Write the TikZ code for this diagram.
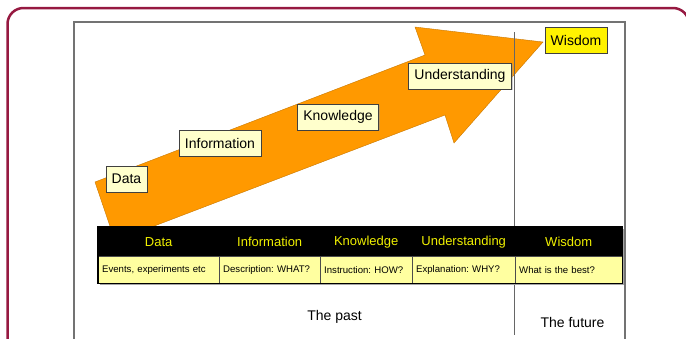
\documentclass[tikz,border=0pt]{standalone}
\usepackage{fontspec}
\setmainfont{Liberation Sans}
\usetikzlibrary{shadows}
\frenchspacing

\definecolor{framered}{RGB}{150,25,65}
\definecolor{arroworange}{RGB}{255,153,0}
\definecolor{arrowedge}{RGB}{200,120,0}
\definecolor{labelfill}{RGB}{255,255,204}
\definecolor{rowfill}{RGB}{255,255,160}
\definecolor{headtext}{RGB}{240,240,0}

\begin{document}
\begin{tikzpicture}[
		x=1pt, y=-1pt,
		stage/.style={rectangle, draw=black!75, fill=labelfill, inner xsep=6pt, inner ysep=0pt, minimum height=26pt, font=\fontsize{14}{16}\selectfont, drop shadow={shadow xshift=1.2pt, shadow yshift=-1.2pt, fill=black!40}},
		topstage/.style={stage, fill=yellow},
		headcell/.style={rectangle, anchor=north west, draw=black, fill=black, text=headtext, inner sep=0pt, minimum height=29pt, font=\fontsize{13}{15}\selectfont},
		bodycell/.style={rectangle, anchor=north west, draw=black!70, fill=rowfill, inner xsep=4pt, inner ysep=0pt, minimum height=27pt, align=left, font=\fontsize{9.6}{11}\selectfont},
		era/.style={font=\fontsize{14}{16}\selectfont}
		]

		\useasboundingbox (0,0) rectangle (686,338);
		\clip (0,0) rectangle (686,338);

		% frame and slide
		\draw[framered, line width=2.5pt, rounded corners=16pt] (7.5,8) rectangle (689,360);
		\draw[black!55, line width=1.2pt] (74,22) rectangle (625,360);

		% rising arrow
		\draw[arrowedge, fill=arroworange] (95,182) -- (425,55) -- (415,27) -- (543,42) -- (454,143) -- (445,115) -- (115,241) -- cycle;

		\draw[black!60] (514,32) -- (514,335);

		\node[stage] (data) at (126.5,179) {Data};
		\node[stage] (info) at (220,143) {Information};
		\node[stage] (know) at (338,117) {Knowledge};
		\node[stage] (under) at (460,76) {Understanding};
		\node[topstage] (wis) at (576,40) {Wisdom};

		% table
		\fill[black!35] (100,229) rectangle (624,285);
		\node[headcell, minimum width=121pt] (hdata) at (98,227) {Data};
		\node[headcell, minimum width=101pt] (hinfo) at (219,227) {Information};
		\node[headcell, minimum width=92pt] (hknow) at (320,227) {Knowledge};
		\node[headcell, minimum width=103pt] (hunder) at (412,227) {Understanding};
		\node[headcell, minimum width=107pt] (hwis) at (515,227) {Wisdom};

		\node[bodycell, text width=113pt] (bdata) at (98,256) {Events, experiments etc};
		\node[bodycell, text width=93pt] (binfo) at (219,256) {Description: WHAT?};
		\node[bodycell, text width=84pt] (bknow) at (320,256) {Instruction: HOW?};
		\node[bodycell, text width=95pt] (bunder) at (412,256) {Explanation: WHY?};
		\node[bodycell, text width=99pt] (bwis) at (515,256) {What is the best?};
		\draw[line width=1.5pt] (hdata.north west) rectangle (bwis.south east);

		\node[era] (past) at (334.5,317) {The past};
		\node[era] (future) at (572.5,322) {The future};
	\end{tikzpicture}
\end{document}
